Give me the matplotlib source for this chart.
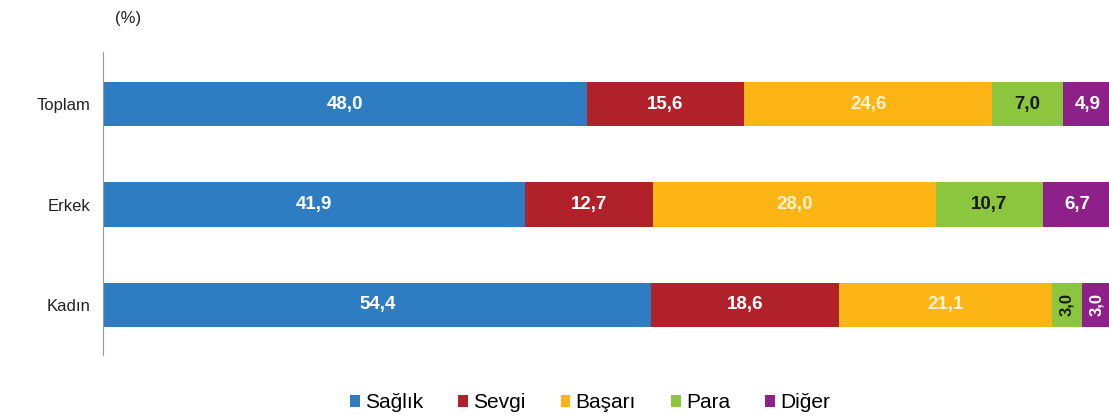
import numpy as np
import matplotlib.pyplot as plt

plt.rcParams['font.family'] = ['Liberation Sans', 'DejaVu Sans']

# Data
categories = ['Toplam', 'Erkek', 'Kadın']
series_names = ['Sağlık', 'Sevgi', 'Başarı', 'Para', 'Diğer']
values = {
    'Sağlık': [48.0, 41.9, 54.4],
    'Sevgi': [15.6, 12.7, 18.6],
    'Başarı': [24.6, 28.0, 21.1],
    'Para': [7.0, 10.7, 3.0],
    'Diğer': [4.9, 6.7, 3.0],
}
colors = ['#2E7DC2', '#B0212A', '#FDB515', '#8CC63E', '#8E2189']
label_colors = ['white', 'white', '#FFF3D0', '#1a1a1a', 'white']

fig = plt.figure(figsize=(11.09, 4.17), dpi=100)
ax = fig.add_axes([103 / 1109, 1 - 355 / 417, 1 - 103 / 1109, (355 - 52) / 417])

ypos = np.array([2, 1, 0])
left = np.zeros(len(categories))
for name, col, tcol in zip(series_names, colors, label_colors):
    vals = np.array(values[name])
    ax.barh(ypos, vals, left=left, height=0.44, color=col, label=name)
    for y, l, v in zip(ypos, left, vals):
        txt = f'{v:.1f}'.replace('.', ',')
        if v < 4:
            # narrow segments get vertical labels
            ax.text(l + v / 2, y, txt, ha='center', va='center', rotation=90,
                    color=tcol, fontsize=12, fontweight='bold')
        else:
            ax.text(l + v / 2, y, txt, ha='center', va='center',
                    color=tcol, fontsize=13.5, fontweight='bold')
    left += vals

ax.set_xlim(0, 99.8)
ax.set_ylim(-0.5, 2.52)
ax.set_yticks(ypos)
ax.set_yticklabels(categories, fontsize=12, color='#222222')
ax.tick_params(axis='y', length=0, pad=9)
ax.set_xticks([])
for s in ['top', 'right', 'bottom']:
    ax.spines[s].set_visible(False)
ax.spines['left'].set_color('#999999')

fig.text(115 / 1109, 1 - 18 / 417, '(%)', fontsize=12, color='#222222', va='center')

handles, labels = ax.get_legend_handles_labels()
fig.legend(handles, labels, loc='center', bbox_to_anchor=(590 / 1109, 1 - 403 / 417),
           ncol=5, frameon=False, fontsize=15, handlelength=0.45, handleheight=0.45,
           handletextpad=0.25, columnspacing=1.7)

fig.savefig('out.png', dpi=100)
